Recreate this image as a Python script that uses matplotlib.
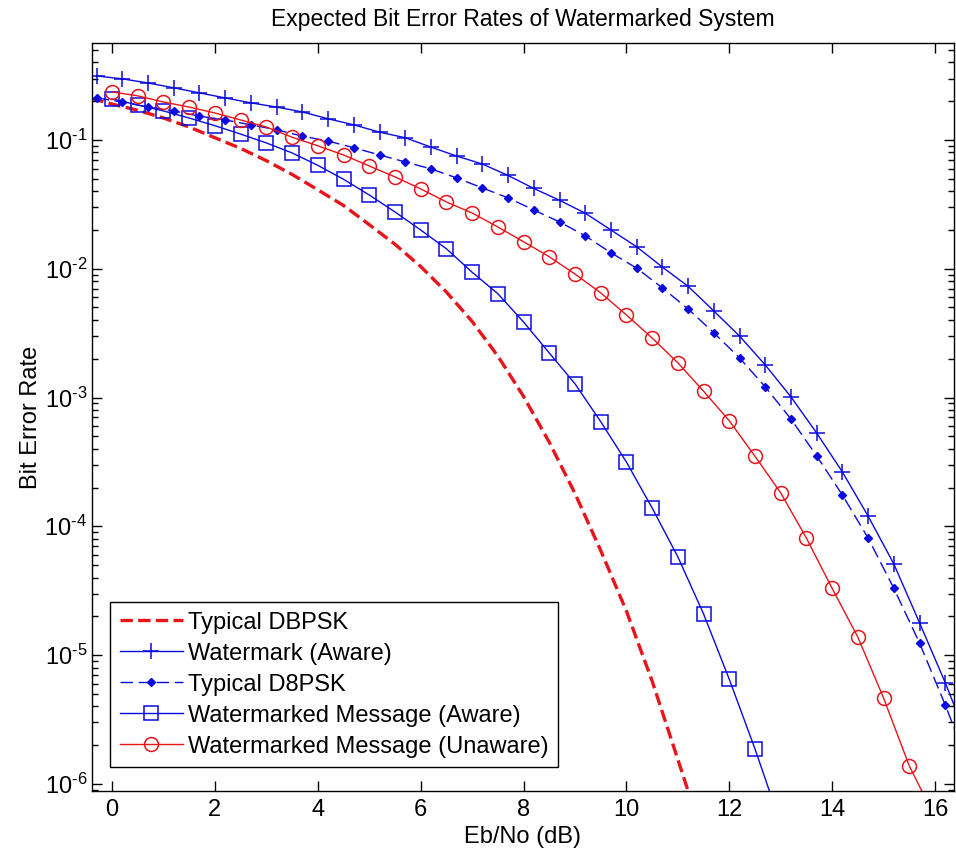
import numpy as np
import matplotlib
matplotlib.use("Agg")
import matplotlib.pyplot as plt
from matplotlib.ticker import LogLocator, NullFormatter, FuncFormatter

plt.rcParams['font.family'] = ['Liberation Sans', 'DejaVu Sans']
plt.rcParams['mathtext.fontset'] = 'custom'
plt.rcParams['mathtext.rm'] = 'Liberation Sans'
plt.rcParams['mathtext.it'] = 'Liberation Sans:italic'
plt.rcParams['axes.unicode_minus'] = False

# Typical DBPSK (no markers)
ebno_dbpsk = [-0.4, 0.0, 0.5, 1.0, 1.5, 2.0, 2.5, 3.0, 3.5, 4.0, 4.5, 5.0, 5.5, 6.0,
              6.5, 7.0, 7.5, 8.0, 8.5, 9.0, 9.5, 10.0, 10.5, 11.0, 11.2]
ber_dbpsk = [0.21, 0.19, 0.17, 0.148, 0.126, 0.104, 0.086, 0.069, 0.054, 0.041, 0.031,
             0.022, 0.0155, 0.0104, 6.6e-3, 3.9e-3, 2.1e-3, 1.02e-3, 4.5e-4, 1.8e-4,
             6.5e-5, 2.2e-5, 6.3e-6, 1.55e-6, 8.8e-7]

# Watermark (Aware) and Typical D8PSK: points at -0.3, 0.2, ... (last one off-axes, no marker)
ebno_shift = [-0.3, 0.2, 0.7, 1.2, 1.7, 2.2, 2.7, 3.2, 3.7, 4.2, 4.7, 5.2, 5.7, 6.2, 6.7,
              7.2, 7.7, 8.2, 8.7, 9.2, 9.7, 10.2, 10.7, 11.2, 11.7, 12.2, 12.7, 13.2,
              13.7, 14.2, 14.7, 15.2, 15.7, 16.2, 16.7]
ber_wm_aware = [0.314, 0.298, 0.277, 0.254, 0.232, 0.212, 0.194, 0.180, 0.165, 0.146,
                0.131, 0.115, 0.104, 0.088, 0.075, 0.065, 0.053, 0.042, 0.034, 0.027,
                0.020, 0.0148, 0.0103, 0.0073, 4.7e-3, 3.0e-3, 1.79e-3, 1.01e-3,
                5.3e-4, 2.64e-4, 1.2e-4, 5.1e-5, 1.78e-5, 6.1e-6, 1.9e-6]
ber_d8psk = [0.212, 0.197, 0.180, 0.168, 0.153, 0.143, 0.131, 0.120, 0.107, 0.098,
             0.087, 0.0765, 0.0675, 0.0596, 0.0507, 0.0424, 0.0355, 0.0286, 0.0231,
             0.018, 0.0133, 0.0101, 0.0071, 4.87e-3, 3.18e-3, 2.03e-3, 1.21e-3,
             6.8e-4, 3.52e-4, 1.75e-4, 8.1e-5, 3.3e-5, 1.24e-5, 4.1e-6, 1.25e-6]

# Watermarked Message (Aware): 0 .. 12.5 dB (+ tail point below axis)
ebno_msg_aware = [0.0, 0.5, 1.0, 1.5, 2.0, 2.5, 3.0, 3.5, 4.0, 4.5, 5.0, 5.5, 6.0, 6.5,
                  7.0, 7.5, 8.0, 8.5, 9.0, 9.5, 10.0, 10.5, 11.0, 11.5, 12.0, 12.5, 13.0]
ber_msg_aware = [0.208, 0.187, 0.168, 0.148, 0.129, 0.111, 0.0948, 0.0793, 0.0635,
                 0.0495, 0.0374, 0.0276, 0.020, 0.0143, 0.0094, 0.0064, 3.86e-3,
                 2.22e-3, 1.28e-3, 6.5e-4, 3.16e-4, 1.39e-4, 5.8e-5, 2.09e-5, 6.5e-6,
                 1.87e-6, 4.9e-7]

# Watermarked Message (Unaware): 0 .. 15.5 dB (+ tail point below axis)
ebno_msg_unaware = [0.0, 0.5, 1.0, 1.5, 2.0, 2.5, 3.0, 3.5, 4.0, 4.5, 5.0, 5.5, 6.0, 6.5,
                    7.0, 7.5, 8.0, 8.5, 9.0, 9.5, 10.0, 10.5, 11.0, 11.5, 12.0, 12.5,
                    13.0, 13.5, 14.0, 14.5, 15.0, 15.5, 16.0]
ber_msg_unaware = [0.236, 0.22, 0.197, 0.18, 0.162, 0.143, 0.126, 0.105, 0.090, 0.0765,
                   0.0628, 0.0517, 0.0417, 0.033, 0.0271, 0.0211, 0.0162, 0.0124,
                   0.0091, 0.0065, 4.38e-3, 2.9e-3, 1.86e-3, 1.12e-3, 6.6e-4, 3.5e-4,
                   1.82e-4, 8.1e-5, 3.3e-5, 1.38e-5, 4.65e-6, 1.38e-6, 5.5e-7]

blue = '#0a0ae0'
red = '#e8141a'
fs = 17

fig = plt.figure(figsize=(9.56, 8.58), dpi=100)
ax = fig.add_axes([92 / 956, 67 / 858, 862 / 956, 748 / 858])

ax.semilogy(ebno_dbpsk, ber_dbpsk, '--', color=red, lw=2.4, label='Typical DBPSK')
ax.semilogy(ebno_shift, ber_wm_aware, '-', color=blue, lw=1.0, marker='+', ms=12,
            mew=1.1, markevery=slice(0, -1), label='Watermark (Aware)')
ax.semilogy(ebno_shift, ber_d8psk, color=blue, lw=1.0, ls=(0, (9, 4)), marker='D',
            ms=3.8, mfc=blue, mec=blue, markevery=slice(0, -1), label='Typical D8PSK')
ax.semilogy(ebno_msg_aware, ber_msg_aware, '-', color=blue, lw=1.0, marker='s', ms=10,
            mfc='none', mew=1.1, markevery=slice(0, -1),
            label='Watermarked Message (Aware)')
ax.semilogy(ebno_msg_unaware, ber_msg_unaware, '-', color=red, lw=1.0, marker='o',
            ms=10, mfc='none', mew=1.1, markevery=slice(0, -1),
            label='Watermarked Message (Unaware)')

ax.set_xlim(-0.39, 16.37)
ax.set_ylim(8.8e-7, 0.566)
ax.set_xticks(range(0, 17, 2))
ax.yaxis.set_major_locator(LogLocator(base=10, numticks=10))
ax.yaxis.set_major_formatter(FuncFormatter(
    lambda v, pos: r'$10^{\text{-}%d}$' % round(-np.log10(v))))
ax.yaxis.set_minor_locator(LogLocator(base=10, subs=range(2, 10), numticks=20))
ax.yaxis.set_minor_formatter(NullFormatter())
ax.tick_params(which='both', direction='in', top=True, right=True, labelsize=fs)
ax.tick_params(axis='x', pad=6)
ax.tick_params(which='major', length=7, width=1)
ax.tick_params(which='minor', length=4, width=1)
for s in ax.spines.values():
    s.set_linewidth(1.0)

ax.set_title('Expected Bit Error Rates of Watermarked System', fontsize=16.5, pad=12)
ax.set_xlabel('Eb/No (dB)', fontsize=fs, labelpad=3)
ax.set_ylabel('Bit Error Rate', fontsize=fs, labelpad=2)

leg = ax.legend(loc='lower left', bbox_to_anchor=(0.021, 0.032), fontsize=fs,
                fancybox=False, edgecolor='black', framealpha=1, numpoints=1,
                handlelength=2.7, handletextpad=0.2, labelspacing=0.38,
                borderpad=0.4, borderaxespad=0)
leg.get_frame().set_linewidth(1.0)

fig.savefig('out.png', dpi=100)
